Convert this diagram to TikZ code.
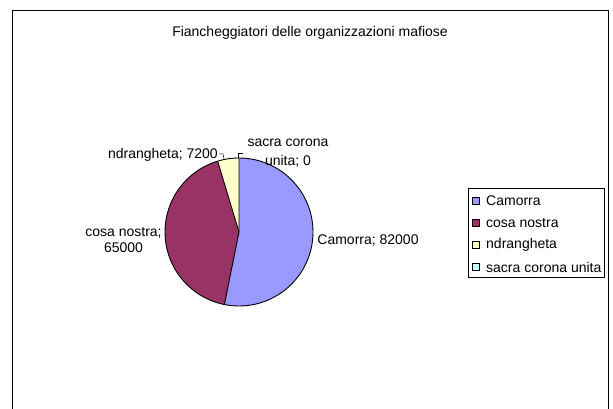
\documentclass[tikz,border=0pt]{standalone}
\usepackage{fontspec}
\setmainfont{Liberation Sans}
\usetikzlibrary{calc}
\definecolor{cam}{HTML}{9999FF}
\definecolor{cosa}{HTML}{993366}
\definecolor{ndr}{HTML}{FFFFCC}
\definecolor{sacra}{HTML}{CCFFFF}
\begin{document}
\begin{tikzpicture}[x=1pt,y=-1pt,
  lbl/.style={font=\fontsize{14}{16}\selectfont, inner sep=0pt, align=center},
  slice/.style={draw=black, line width=0.9pt, line join=round},
  lgsq/.style={draw=black, line width=0.5pt, minimum size=7pt, inner sep=0pt},
  lgtxt/.style={font=\fontsize{14}{16}\selectfont, inner sep=0pt, anchor=west},
  leader/.style={draw=black, line width=0.5pt}]
\useasboundingbox (0,0) rectangle (613,409);
\fill[white] (0,0) rectangle (613,409);
% frame
\draw[line width=1pt] (12,409) -- (12,11) -- (608,11) -- (608,409);
% title
\node[lbl] (title) at (310,33) {Fiancheggiatori delle organizzazioni mafiose};
% pie
\coordinate (c) at (239,232);
\fill[cam] (c) -- ($(c)+(-90:74)$) arc[start angle=-90, end angle=101.4, radius=74] -- cycle;
\fill[cosa] (c) -- ($(c)+(101.4:74)$) arc[start angle=101.4, end angle=253.2, radius=74] -- cycle;
\fill[ndr] (c) -- ($(c)+(253.2:74)$) arc[start angle=253.2, end angle=270, radius=74] -- cycle;
\draw[slice] (c) circle[radius=74];
\draw[slice] ($(c)+(-90:74)$) -- (c) -- ($(c)+(101.4:74)$);
\draw[slice] (c) -- ($(c)+(253.2:74)$);
% labels
\node[lbl] (lcam) at (368,241) {Camorra; 82000};
\node[lbl] (lcosa) at (123.5,240) {cosa nostra;\\65000};
\node[lbl, anchor=east] (lndr) at (218,155) {ndrangheta; 7200};
\node[lbl, font=\fontsize{14}{19}\selectfont] (lsacra) at (288,153.5) {sacra corona\\unita; 0};
\coordinate (ndrend) at (224,158.5);
\coordinate (sacend) at (238.7,158.5);
\draw[leader] (lndr.east) ++(1,-1) -- (223,154) -- (ndrend);
\draw[leader] (sacend) -- (238.7,153) -- (243,153);
% legend
\draw[line width=0.6pt] (468,188) rectangle (604,277);
\node[lgsq, fill=cam] (s1) at (476,201) {};
\node[lgsq, fill=cosa] (s2) at (476,223) {};
\node[lgsq, fill=ndr] (s3) at (476,245) {};
\node[lgsq, fill=sacra] (s4) at (476,267) {};
\node[lgtxt] (t1) at (486,201) {Camorra};
\node[lgtxt] (t2) at (486,223) {cosa nostra};
\node[lgtxt] (t3) at (486,245) {ndrangheta};
\node[lgtxt] (t4) at (486,267) {sacra corona unita};
\end{tikzpicture}
\end{document}
